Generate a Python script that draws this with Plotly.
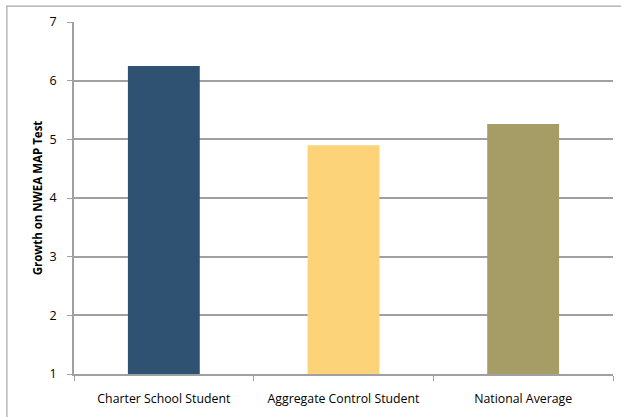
import plotly.graph_objects as go

categories = ["Charter School Student", "Aggregate Control Student", "National Average"]
values = [6.25, 4.9, 5.26]
colors = ["#2F5273", "#FDD37A", "#A59C66"]
y_ticks = [1, 2, 3, 4, 5, 6, 7]

fig = go.Figure()
fig.add_trace(go.Bar(
    x=categories, y=values, base=0,
    marker=dict(color=colors, line=dict(width=0)),
    width=0.4,
))

fig.update_layout(
    width=621, height=417,
    margin=dict(l=74, r=8, t=22, b=43),
    paper_bgcolor="white", plot_bgcolor="white",
    showlegend=False,
    font=dict(family="Open Sans, Liberation Sans, sans-serif", size=12, color="#000000"),
    shapes=[dict(type="rect", xref="paper", yref="paper",
                 x0=-0.1245, y0=1.045, x1=1.1, y1=-0.2,
                 line=dict(color="#A6A6A6", width=1.2), layer="below")],
)
fig.update_xaxes(
    showline=True, linecolor="#A0A0A0", linewidth=1.5,
    ticks="outside", tickson="boundaries", ticklen=5, tickcolor="#A0A0A0",
    tickfont=dict(size=12.3), ticklabelstandoff=12, showgrid=False,
)
fig.update_yaxes(
    range=[1, 7], tickvals=y_ticks,
    showline=True, linecolor="#A0A0A0", linewidth=1.5,
    ticks="outside", ticklen=5, tickcolor="#A0A0A0",
    showgrid=True, gridcolor="#A0A0A0", gridwidth=1.5,
    tickfont=dict(size=12.5), ticklabelstandoff=8,
    title=dict(text="<b>Growth on NWEA MAP Test</b>", font=dict(size=11.5), standoff=5),
    zeroline=False,
)

fig.write_html("out.html")
